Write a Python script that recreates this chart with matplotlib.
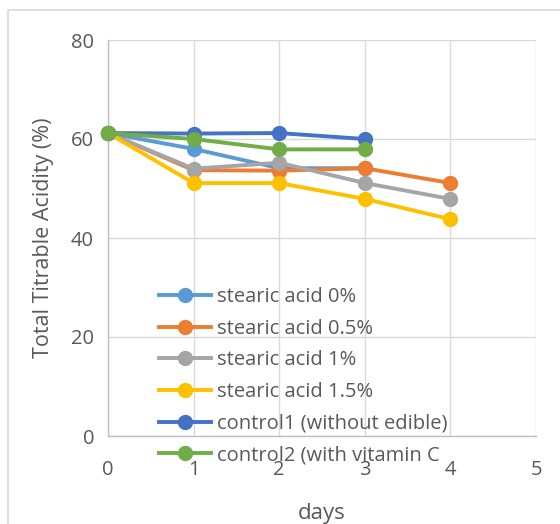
import matplotlib
matplotlib.use("Agg")
import matplotlib.pyplot as plt
from matplotlib.patches import Rectangle

days = [0, 1, 2, 3, 4]
series_names = [
    "stearic acid 0%",
    "stearic acid 0.5%",
    "stearic acid 1%",
    "stearic acid 1.5%",
    "control1 (without edible)",
    "control2 (with vitamin C",
]
sa0 = [61.2, 58.0, 54.1, 54.1]
sa05 = [61.2, 53.7, 53.6, 54.1, 51.1]
sa1 = [61.2, 54.0, 55.2, 51.1, 47.9]
sa15 = [61.2, 51.1, 51.1, 47.9, 43.8]
control1 = [61.2, 61.1, 61.2, 60.0]
control2 = [61.2, 60.0, 57.9, 57.9]
colors = ["#5B9BD5", "#ED7D31", "#A5A5A5", "#FFC000", "#4472C4", "#70AD47"]
x_ticks = [0, 1, 2, 3, 4, 5]
y_ticks = [0, 20, 40, 60, 80]

plt.rcParams['font.family'] = ['Open Sans', 'DejaVu Sans']
text_color = "#595959"

fig = plt.figure(figsize=(5.6, 5.24), dpi=100)
fig.patches.append(Rectangle((8/560, -0.1), 1.2, 1 - 10/524 + 0.1,
                             transform=fig.transFigure, fill=False,
                             edgecolor="#d9d9d9", linewidth=1.2))
ax = fig.add_axes([108/560, 1 - 436/524, (536-108)/560, (436-40)/524])

all_series = [sa0, sa05, sa1, sa15, control1, control2]
handles = []
for i, (vals, name, c) in enumerate(zip(all_series, series_names, colors)):
    h, = ax.plot(days[:len(vals)], vals, color=c, linewidth=2.8, marker='o',
                 markersize=10, label=name, zorder=3 + i, clip_on=False)
    handles.append(h)

ax.set_xlim(0, 5)
ax.set_ylim(0, 80)
ax.set_xticks(x_ticks)
ax.set_yticks(y_ticks)
ax.grid(True, color="#d9d9d9", linewidth=1.0)
ax.set_axisbelow(True)
for s in ["top", "right"]:
    ax.spines[s].set_visible(False)
for s in ["left", "bottom"]:
    ax.spines[s].set_color("#bfbfbf")
    ax.spines[s].set_linewidth(1.0)
ax.tick_params(axis='both', length=0, labelsize=14.5, colors=text_color)
ax.tick_params(axis='x', pad=17)
ax.tick_params(axis='y', pad=10)
ax.set_xlabel("days", fontsize=16, color=text_color, labelpad=17)
ax.set_ylabel("Total Titrable Acidity (%)", fontsize=15.5, color=text_color, labelpad=12)

leg = fig.legend(handles=handles, loc='upper left',
                 bbox_to_anchor=(159/560, 1 - 287/524), frameon=False,
                 fontsize=14.5, labelcolor=text_color, borderaxespad=0,
                 borderpad=0, handlelength=2.6, handletextpad=0.3,
                 labelspacing=0.58)
leg.set_zorder(20)

fig.savefig("out.png", dpi=100)
